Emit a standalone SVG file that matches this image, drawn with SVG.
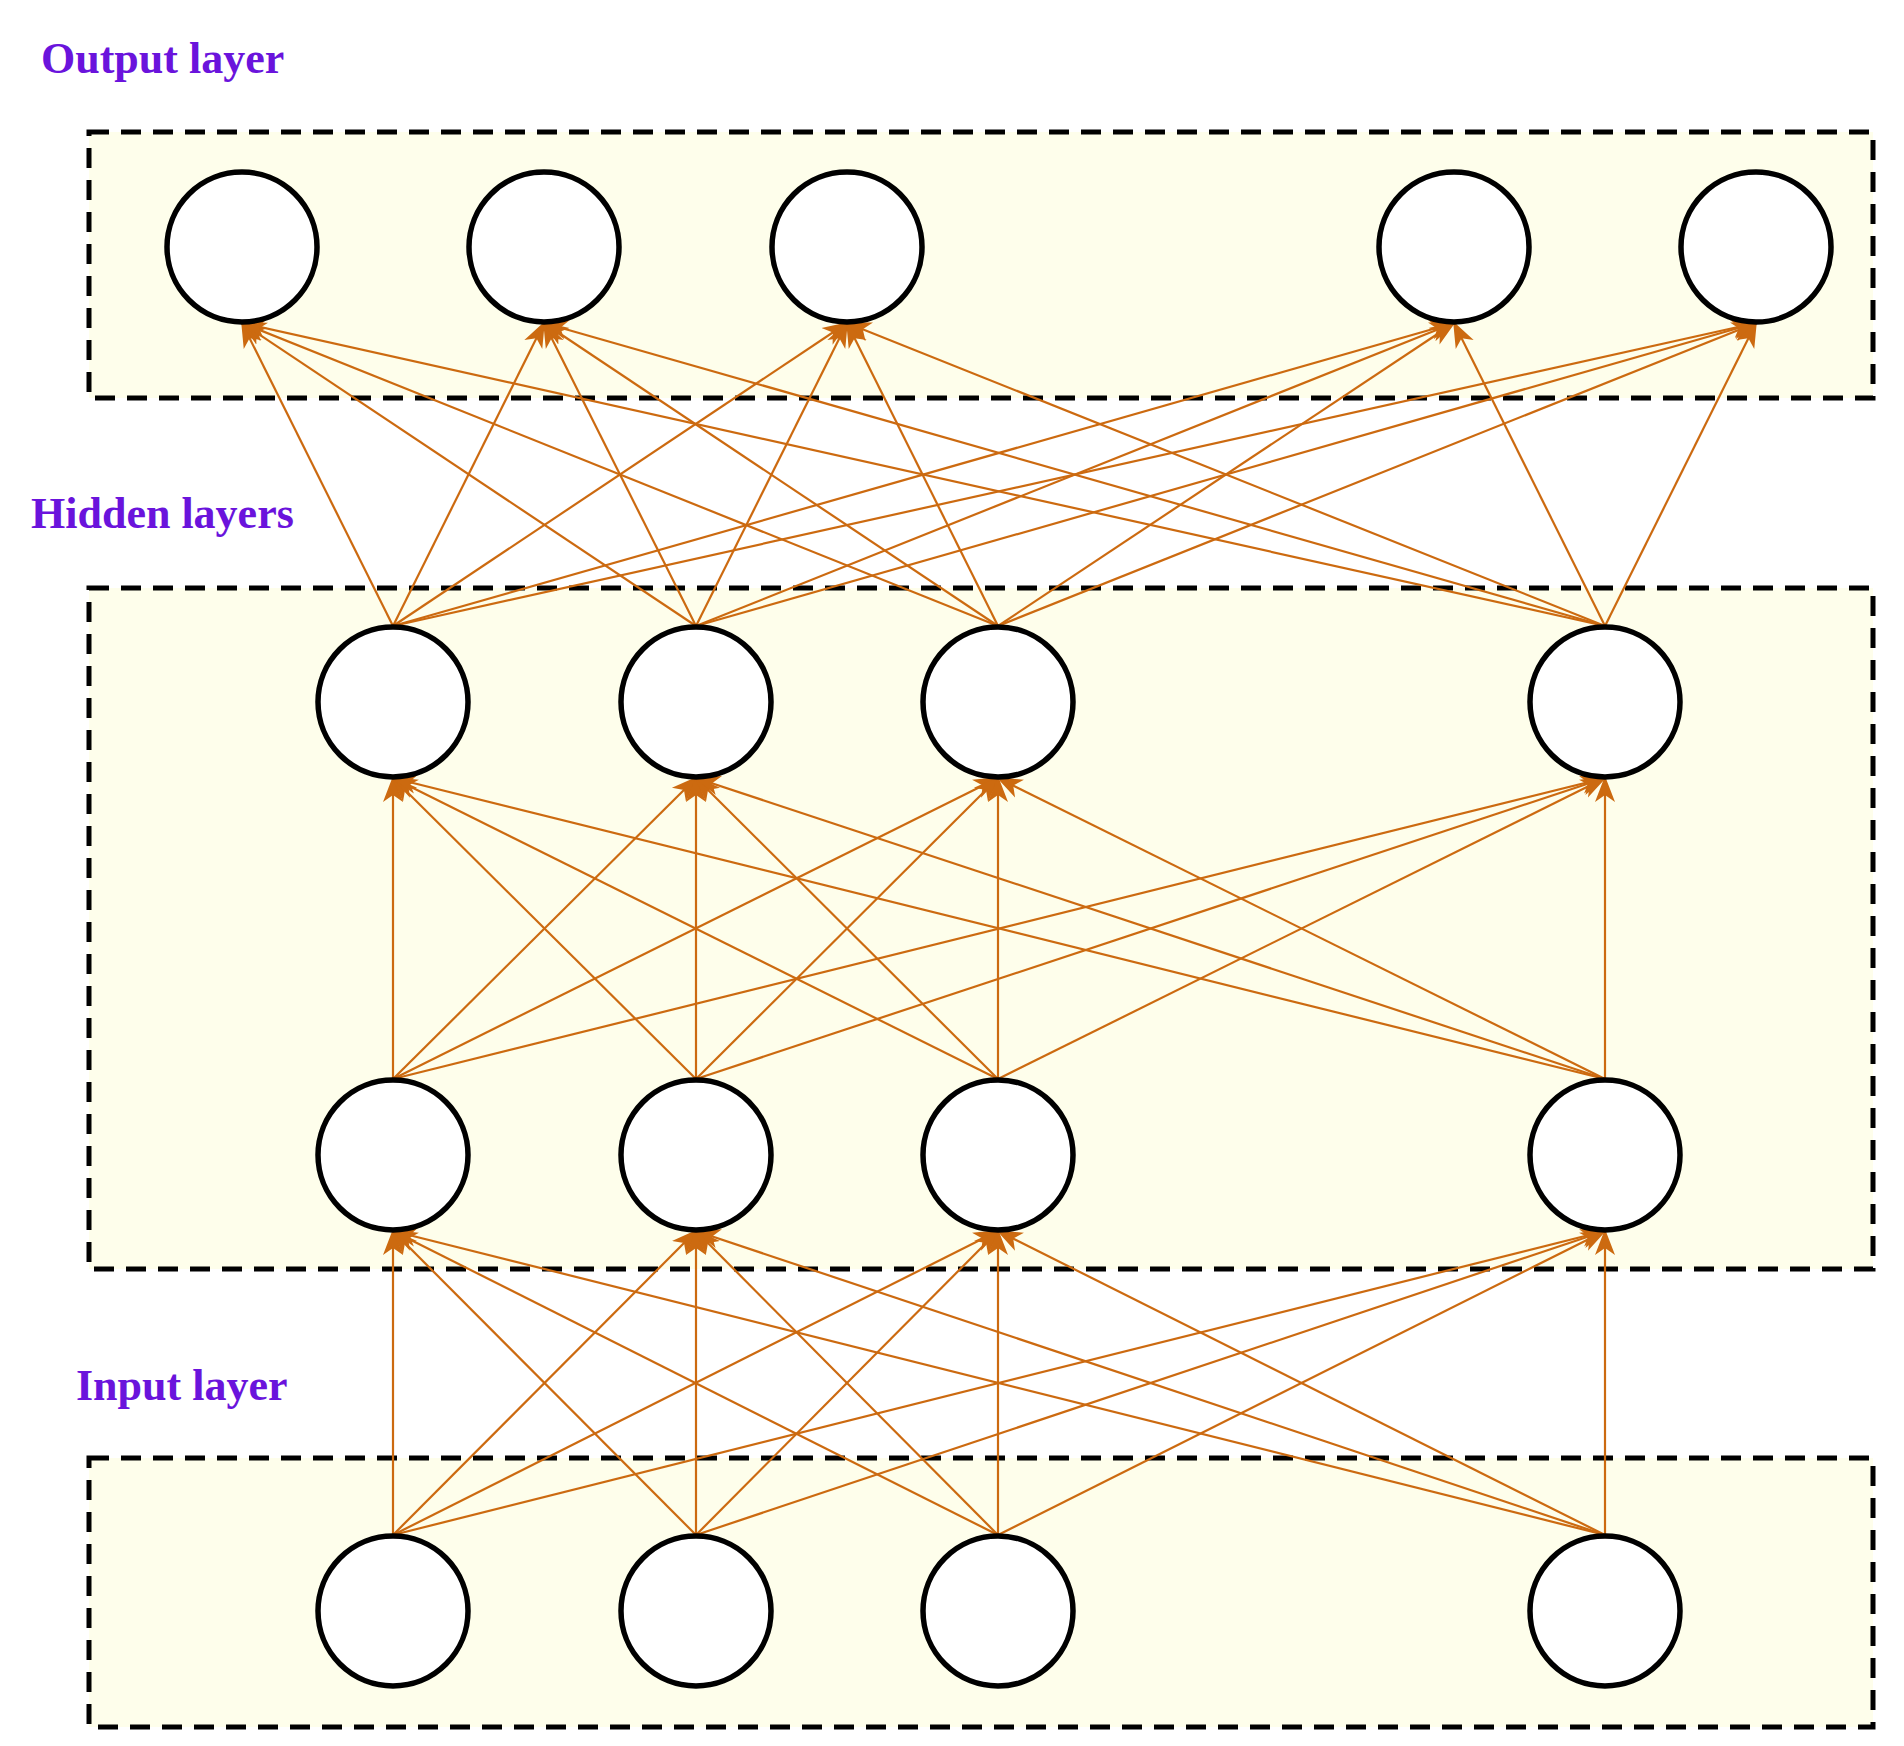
<svg xmlns="http://www.w3.org/2000/svg" width="1904" height="1746" viewBox="0 0 1904 1746">
<style>
.box{fill:#FEFEEB;stroke:#000;stroke-width:5;stroke-dasharray:20 12}
.n{fill:#fff;stroke:#000;stroke-width:5.5}
.lbl{font-family:"Liberation Serif",serif;font-weight:bold;font-size:44px;fill:#6A13DC}
.e line{stroke:#CC6A10;stroke-width:2.2;marker-end:url(#ah)}
</style>
<defs><marker id="ah" markerUnits="userSpaceOnUse" markerWidth="26" markerHeight="26" viewBox="0 0 26 26" refX="24" refY="13" orient="auto"><path d="M0,3 L26,13 L0,23 L7,13 Z" fill="#CC6A10"/></marker></defs>
<rect width="1904" height="1746" fill="#fff"/>
<rect class="box" x="89" y="132" width="1784" height="266"/>
<rect class="box" x="89" y="588" width="1784" height="681"/>
<rect class="box" x="89" y="1458" width="1784" height="269"/>
<text class="lbl" x="41" y="73">Output layer</text>
<text class="lbl" x="31" y="528">Hidden layers</text>
<text class="lbl" x="76" y="1400">Input layer</text>
<g id="edges" class="e">
<line x1="393" y1="1535" x2="393" y2="1231"/><line x1="393" y1="1535" x2="696" y2="1231"/><line x1="393" y1="1535" x2="998" y2="1231"/><line x1="393" y1="1535" x2="1605" y2="1231"/>
<line x1="696" y1="1535" x2="393" y2="1231"/><line x1="696" y1="1535" x2="696" y2="1231"/><line x1="696" y1="1535" x2="998" y2="1231"/><line x1="696" y1="1535" x2="1605" y2="1231"/>
<line x1="998" y1="1535" x2="393" y2="1231"/><line x1="998" y1="1535" x2="696" y2="1231"/><line x1="998" y1="1535" x2="998" y2="1231"/><line x1="998" y1="1535" x2="1605" y2="1231"/>
<line x1="1605" y1="1535" x2="393" y2="1231"/><line x1="1605" y1="1535" x2="696" y2="1231"/><line x1="1605" y1="1535" x2="998" y2="1231"/><line x1="1605" y1="1535" x2="1605" y2="1231"/>
<line x1="393" y1="1079" x2="393" y2="778"/><line x1="393" y1="1079" x2="696" y2="778"/><line x1="393" y1="1079" x2="998" y2="778"/><line x1="393" y1="1079" x2="1605" y2="778"/>
<line x1="696" y1="1079" x2="393" y2="778"/><line x1="696" y1="1079" x2="696" y2="778"/><line x1="696" y1="1079" x2="998" y2="778"/><line x1="696" y1="1079" x2="1605" y2="778"/>
<line x1="998" y1="1079" x2="393" y2="778"/><line x1="998" y1="1079" x2="696" y2="778"/><line x1="998" y1="1079" x2="998" y2="778"/><line x1="998" y1="1079" x2="1605" y2="778"/>
<line x1="1605" y1="1079" x2="393" y2="778"/><line x1="1605" y1="1079" x2="696" y2="778"/><line x1="1605" y1="1079" x2="998" y2="778"/><line x1="1605" y1="1079" x2="1605" y2="778"/>
<line x1="393" y1="626" x2="242" y2="323"/><line x1="393" y1="626" x2="544" y2="323"/><line x1="393" y1="626" x2="847" y2="323"/><line x1="393" y1="626" x2="1454" y2="323"/><line x1="393" y1="626" x2="1756" y2="323"/>
<line x1="696" y1="626" x2="242" y2="323"/><line x1="696" y1="626" x2="544" y2="323"/><line x1="696" y1="626" x2="847" y2="323"/><line x1="696" y1="626" x2="1454" y2="323"/><line x1="696" y1="626" x2="1756" y2="323"/>
<line x1="998" y1="626" x2="242" y2="323"/><line x1="998" y1="626" x2="544" y2="323"/><line x1="998" y1="626" x2="847" y2="323"/><line x1="998" y1="626" x2="1454" y2="323"/><line x1="998" y1="626" x2="1756" y2="323"/>
<line x1="1605" y1="626" x2="242" y2="323"/><line x1="1605" y1="626" x2="544" y2="323"/><line x1="1605" y1="626" x2="847" y2="323"/><line x1="1605" y1="626" x2="1454" y2="323"/><line x1="1605" y1="626" x2="1756" y2="323"/>
</g>
<g id="out1"><circle class="n" cx="242" cy="247" r="75"/></g>
<g id="out2"><circle class="n" cx="544" cy="247" r="75"/></g>
<g id="out3"><circle class="n" cx="847" cy="247" r="75"/></g>
<g id="out4"><circle class="n" cx="1454" cy="247" r="75"/></g>
<g id="out5"><circle class="n" cx="1756" cy="247" r="75"/></g>
<g id="h1a"><circle class="n" cx="393" cy="702" r="75"/></g>
<g id="h1b"><circle class="n" cx="696" cy="702" r="75"/></g>
<g id="h1c"><circle class="n" cx="998" cy="702" r="75"/></g>
<g id="h1d"><circle class="n" cx="1605" cy="702" r="75"/></g>
<g id="h2a"><circle class="n" cx="393" cy="1155" r="75"/></g>
<g id="h2b"><circle class="n" cx="696" cy="1155" r="75"/></g>
<g id="h2c"><circle class="n" cx="998" cy="1155" r="75"/></g>
<g id="h2d"><circle class="n" cx="1605" cy="1155" r="75"/></g>
<g id="in1"><circle class="n" cx="393" cy="1611" r="75"/></g>
<g id="in2"><circle class="n" cx="696" cy="1611" r="75"/></g>
<g id="in3"><circle class="n" cx="998" cy="1611" r="75"/></g>
<g id="in4"><circle class="n" cx="1605" cy="1611" r="75"/></g>
</svg>
